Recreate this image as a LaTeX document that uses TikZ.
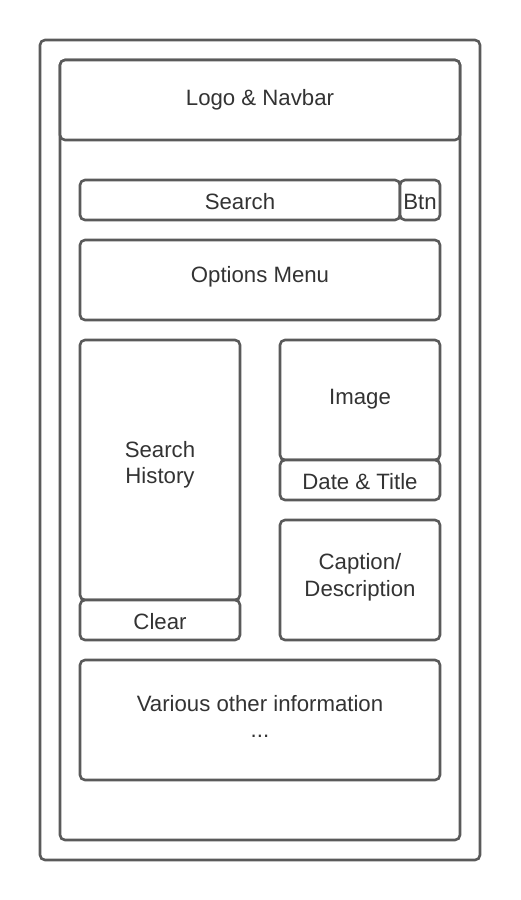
\documentclass[tikz,border=0pt]{standalone}
\usepackage{fontspec}
\setmainfont{Liberation Sans}
\definecolor{edge}{HTML}{5A5A5A}
\definecolor{txt}{HTML}{333333}
\tikzset{
  box/.style={draw=edge, line width=2.6pt, rounded corners=5pt, fill=white},
  lbl/.style={text=txt, font=\fontsize{22.2}{26.5}\selectfont, align=center}
}
\begin{document}
\begin{tikzpicture}[x=1pt,y=-1pt]
\useasboundingbox (0,0) rectangle (520,900);
\draw[box] (40,40) rectangle (480,860);
\draw[box] (60,60) rectangle (460,840);
\draw[box] (60,60) rectangle (460,140);
\node[lbl] (nav) at (260,99.5) {Logo \& Navbar};
\draw[box] (80,180) rectangle (400,220);
\node[lbl] (search) at (240,202) {Search};
\draw[box] (400,180) rectangle (440,220);
\node[lbl] (btn) at (420,202) {Btn};
\draw[box] (80,240) rectangle (440,320);
\node[lbl] (opt) at (260,276.5) {Options Menu};
\draw[box] (80,340) rectangle (240,600);
\node[lbl] (hist) at (160,465) {Search\\History};
\draw[box] (80,600) rectangle (240,640);
\node[lbl] (clear) at (160,622) {Clear};
\draw[box] (280,340) rectangle (440,460);
\node[lbl] (img) at (360,399.5) {Image};
\draw[box] (280,460) rectangle (440,500);
\node[lbl] (date) at (360,482) {Date \& Title};
\draw[box] (280,520) rectangle (440,640);
\node[lbl] (cap) at (360,577.5) {Caption/\\Description};
\draw[box] (80,660) rectangle (440,780);
\node[lbl] (var) at (260,716.5) {Various other information\\...};
\end{tikzpicture}
\end{document}
